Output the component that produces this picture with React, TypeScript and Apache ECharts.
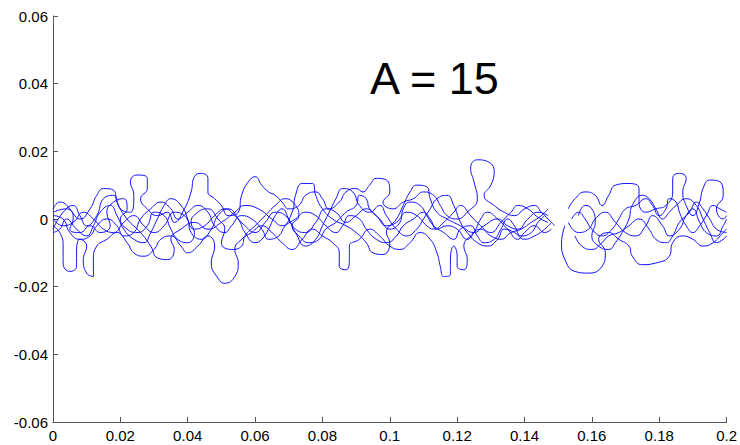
import React, { useEffect, useRef } from "react";
import * as echarts from "echarts";

const xTicks = [0, 0.02, 0.04, 0.06, 0.08, 0.1, 0.12, 0.14, 0.16, 0.18, 0.2];
const yTicks = [-0.06, -0.04, -0.02, 0, 0.02, 0.04, 0.06];
const titleText = "A = 15";

const strandA: number[][] = [
  [0, -0.003], [0.003, 0.002], [0.006, 0.004], [0.008, 0.001], [0.010, -0.002], [0.013, 0.001], [0.015, 0.006],
  [0.018, 0.007], [0.020, 0.003], [0.023, 0.002], [0.024, 0.007], [0.023, 0.011], [0.025, 0.013], [0.028, 0.012],
  [0.028, 0.009], [0.026, 0.006], [0.028, 0.003], [0.031, 0.001], [0.034, 0.002], [0.036, -0.001], [0.039, 0.003],
  [0.041, 0.008], [0.042, 0.0125], [0.044, 0.0135], [0.046, 0.012], [0.046, 0.008], [0.048, 0.006], [0.050, 0.004],
  [0.052, 0.001], [0.055, 0.002], [0.056, 0.007], [0.058, 0.011], [0.060, 0.0125], [0.062, 0.010], [0.064, 0.008],
  [0.066, 0.007], [0.068, 0.005], [0.070, 0.003], [0.073, 0.004], [0.075, 0.007], [0.078, 0.008], [0.080, 0.006],
  [0.082, 0.003], [0.085, 0.005], [0.087, 0.008], [0.090, 0.009], [0.092, 0.008], [0.094, 0.010], [0.096, 0.012],
  [0.099, 0.0115], [0.100, 0.008], [0.098, 0.005], [0.101, 0.003], [0.104, 0.005], [0.107, 0.006], [0.110, 0.008],
  [0.113, 0.007], [0.115, 0.004], [0.117, 0.001], [0.120, 0.000], [0.123, 0.002], [0.126, 0.006], [0.125, 0.011],
  [0.124, 0.015], [0.126, 0.0175], [0.129, 0.017], [0.131, 0.014], [0.130, 0.010], [0.128, 0.007], [0.131, 0.004],
  [0.134, 0.002], [0.137, 0.001], [0.140, 0.003], [0.143, 0.004], [0.145, 0.002], [0.147, 0.000], [0.149, -0.002],
];

const strandB: number[][] = [
  [0, -0.002], [0.002, -0.004], [0.003, -0.008], [0.003, -0.013], [0.005, -0.0155], [0.007, -0.014], [0.007, -0.010],
  [0.008, -0.006], [0.010, -0.008], [0.009, -0.012], [0.010, -0.016], [0.012, -0.017], [0.012, -0.012], [0.013, -0.008],
  [0.016, -0.006], [0.019, -0.004], [0.022, -0.007], [0.024, -0.010], [0.027, -0.011], [0.030, -0.009], [0.032, -0.006],
  [0.035, -0.005], [0.038, -0.008], [0.040, -0.010], [0.043, -0.008], [0.046, -0.005], [0.048, -0.008], [0.047, -0.013],
  [0.049, -0.0175], [0.051, -0.019], [0.054, -0.017], [0.055, -0.013], [0.054, -0.009], [0.056, -0.006], [0.059, -0.004],
  [0.062, -0.002], [0.065, -0.004], [0.068, -0.007], [0.071, -0.009], [0.074, -0.006], [0.077, -0.003], [0.080, -0.005],
  [0.083, -0.007], [0.085, -0.010], [0.085, -0.014], [0.087, -0.015], [0.088, -0.012], [0.088, -0.008], [0.091, -0.006],
  [0.094, -0.003], [0.097, -0.005], [0.100, -0.008], [0.103, -0.009], [0.106, -0.007], [0.109, -0.004], [0.112, -0.006],
  [0.114, -0.010], [0.115, -0.014], [0.116, -0.017], [0.118, -0.0165], [0.118, -0.012], [0.119, -0.008], [0.120, -0.011],
  [0.120, -0.014], [0.122, -0.015], [0.123, -0.012], [0.122, -0.008], [0.124, -0.005], [0.127, -0.003], [0.130, -0.005],
  [0.133, -0.006], [0.136, -0.004], [0.139, -0.003], [0.142, -0.001], [0.145, 0.001], [0.147, 0.003],
];

const strandB2: number[][] = [
  [0.152, -0.002], [0.151, -0.007], [0.152, -0.012], [0.155, -0.0155], [0.159, -0.016], [0.163, -0.014], [0.164, -0.010],
  [0.162, -0.006], [0.165, -0.004], [0.168, -0.006], [0.171, -0.008], [0.172, -0.011], [0.175, -0.0135], [0.179, -0.013],
  [0.183, -0.011], [0.184, -0.007], [0.187, -0.005], [0.190, -0.006], [0.193, -0.008], [0.196, -0.007], [0.199, -0.004],
  [0.2, -0.003],
];

const strandC: number[][] = [
  [0, 0.000], [0.003, -0.002], [0.006, -0.001], [0.009, 0.002], [0.012, 0.000], [0.015, -0.003], [0.018, -0.004],
  [0.021, -0.001], [0.024, 0.001], [0.027, -0.002], [0.030, -0.004], [0.033, -0.002], [0.036, 0.002], [0.039, 0.001],
  [0.042, -0.003], [0.045, -0.002], [0.048, 0.001], [0.051, 0.003], [0.054, 0.001], [0.057, -0.002], [0.060, -0.004],
  [0.063, -0.001], [0.066, 0.002], [0.069, 0.001], [0.072, -0.003], [0.075, -0.004], [0.078, -0.001], [0.081, 0.003],
  [0.084, 0.002], [0.087, -0.001], [0.090, 0.001], [0.093, 0.003], [0.096, 0.001], [0.099, -0.002], [0.102, -0.001],
  [0.105, 0.002], [0.108, 0.001], [0.111, -0.002], [0.113, -0.003], [0.116, -0.001], [0.119, 0.002], [0.121, 0.004],
  [0.124, 0.001], [0.127, -0.002], [0.130, -0.004], [0.133, -0.001], [0.136, 0.002], [0.138, 0.004], [0.141, 0.003],
  [0.144, 0.0005], [0.147, -0.001],
];

const strandC2: number[][] = [
  [0.153, 0.003], [0.155, 0.006], [0.158, 0.008], [0.161, 0.007], [0.163, 0.004], [0.165, 0.007], [0.167, 0.010],
  [0.171, 0.0105], [0.174, 0.009], [0.174, 0.005], [0.176, 0.002], [0.179, 0.003], [0.182, 0.004], [0.184, 0.008],
  [0.184, 0.012], [0.186, 0.0135], [0.188, 0.012], [0.187, 0.008], [0.188, 0.004], [0.190, 0.001], [0.192, 0.005],
  [0.193, 0.009], [0.195, 0.0115], [0.198, 0.011], [0.199, 0.007], [0.197, 0.003], [0.199, 0.000], [0.2, 0.001],
];

const strandD: number[][] = [
  [0, -0.004], [0.002, -0.003], [0.004, 0.000], [0.007, -0.003], [0.010, -0.005], [0.012, -0.002], [0.014, 0.002],
  [0.017, 0.004], [0.019, 0.001], [0.021, -0.003], [0.024, -0.006], [0.027, -0.007], [0.029, -0.004], [0.031, 0.000],
  [0.033, 0.004], [0.035, 0.006], [0.038, 0.004], [0.040, 0.000], [0.041, -0.004], [0.044, -0.006], [0.047, -0.003],
  [0.049, 0.001], [0.052, 0.003], [0.055, 0.000], [0.057, -0.004], [0.060, -0.007], [0.062, -0.006], [0.064, -0.003],
  [0.066, 0.001], [0.068, 0.003], [0.070, 0.000], [0.072, -0.004], [0.075, -0.008], [0.078, -0.006], [0.080, -0.002],
  [0.082, 0.002], [0.084, 0.006], [0.086, 0.009], [0.089, 0.008], [0.091, 0.004], [0.094, 0.002], [0.097, 0.004],
  [0.099, 0.001], [0.102, -0.003], [0.105, -0.005], [0.108, -0.003], [0.110, 0.000], [0.112, 0.003], [0.114, 0.006],
  [0.117, 0.007], [0.119, 0.004], [0.121, -0.001], [0.123, -0.004], [0.126, -0.007], [0.129, -0.008], [0.132, -0.006],
  [0.134, -0.003], [0.137, -0.004], [0.140, -0.006], [0.143, -0.005], [0.146, -0.003], [0.148, -0.001],
];

const strandD2: number[][] = [
  [0.153, -0.001], [0.156, -0.004], [0.159, -0.003], [0.161, 0.000], [0.164, 0.002], [0.167, -0.001], [0.170, -0.004],
  [0.173, -0.005], [0.176, -0.002], [0.178, 0.001], [0.181, -0.002], [0.183, -0.005], [0.186, -0.003], [0.188, 0.001],
  [0.190, 0.003], [0.192, -0.001], [0.194, -0.004], [0.197, -0.005], [0.199, -0.002], [0.2, 0.000],
];

const strandE: number[][] = [
  [0, 0.003], [0.002, 0.005], [0.005, 0.003], [0.006, 0.000], [0.005, -0.003], [0.008, -0.004], [0.011, -0.002],
  [0.014, -0.004], [0.017, -0.002], [0.016, 0.002], [0.018, 0.005], [0.021, 0.006], [0.022, 0.003], [0.020, 0.000],
  [0.022, -0.003], [0.025, -0.004], [0.028, -0.002], [0.030, 0.002], [0.033, 0.001], [0.035, -0.003], [0.037, -0.006],
  [0.040, -0.007], [0.042, -0.004], [0.041, -0.001], [0.043, 0.002], [0.046, 0.003], [0.049, 0.000], [0.051, -0.003],
  [0.050, -0.007], [0.053, -0.009], [0.056, -0.008], [0.057, -0.005], [0.060, -0.002], [0.063, 0.001], [0.066, 0.004],
  [0.069, 0.006], [0.072, 0.004], [0.073, 0.001], [0.071, -0.002], [0.073, -0.005], [0.076, -0.007], [0.079, -0.006],
  [0.081, -0.003], [0.084, -0.001], [0.087, 0.002], [0.090, 0.004], [0.091, 0.007], [0.093, 0.006], [0.094, 0.003],
  [0.097, 0.000], [0.100, -0.003], [0.103, -0.001], [0.104, 0.003], [0.106, 0.005], [0.109, 0.004], [0.111, 0.001],
  [0.113, -0.002], [0.116, -0.004], [0.119, -0.006], [0.121, -0.003], [0.124, -0.002], [0.126, -0.005], [0.128, -0.007],
  [0.131, -0.006], [0.133, -0.003], [0.135, 0.000], [0.137, -0.002], [0.139, -0.005], [0.142, -0.004], [0.144, -0.001],
  [0.146, 0.001],
];

const strandE2: number[][] = [
  [0.154, 0.000], [0.156, 0.002], [0.158, 0.000], [0.160, -0.003], [0.163, -0.005], [0.166, -0.003], [0.168, 0.000],
  [0.170, 0.003], [0.173, 0.004], [0.176, 0.006], [0.178, 0.004], [0.180, 0.001], [0.182, 0.003], [0.183, 0.006],
  [0.185, 0.005], [0.186, 0.002], [0.188, -0.002], [0.190, -0.004], [0.192, -0.002], [0.194, 0.001], [0.196, 0.004],
  [0.198, 0.003], [0.2, 0.002],
];

const strandF: number[][] = [
  [0, 0.001], [0.003, 0.000], [0.005, -0.004], [0.008, -0.006], [0.011, -0.005], [0.013, -0.002], [0.016, 0.000],
  [0.019, -0.002], [0.021, -0.005], [0.024, -0.004], [0.026, 0.000], [0.029, 0.003], [0.032, 0.005], [0.035, 0.003],
  [0.037, 0.000], [0.040, 0.002], [0.043, 0.004], [0.046, 0.002], [0.048, -0.002], [0.051, -0.004], [0.053, -0.002],
  [0.056, 0.001], [0.059, 0.000], [0.062, -0.003], [0.064, -0.006], [0.067, -0.005], [0.069, -0.002], [0.072, 0.000],
  [0.075, 0.002], [0.078, 0.001], [0.081, -0.002], [0.084, -0.004], [0.086, -0.002], [0.088, 0.001], [0.091, 0.000],
  [0.093, -0.003], [0.096, -0.006], [0.099, -0.007], [0.102, -0.005], [0.104, -0.002], [0.107, 0.000], [0.110, 0.002],
  [0.112, 0.000], [0.114, -0.003], [0.117, -0.002], [0.120, -0.003], [0.123, -0.006], [0.125, -0.004], [0.127, 0.000],
  [0.129, 0.002], [0.132, 0.000], [0.135, -0.003], [0.138, -0.006], [0.140, -0.004], [0.143, -0.002], [0.146, -0.004],
  [0.148, -0.003],
];

const strandF2: number[][] = [
  [0.155, -0.005], [0.157, -0.008], [0.160, -0.009], [0.163, -0.007], [0.165, -0.005], [0.168, -0.004], [0.171, -0.002],
  [0.174, 0.000], [0.177, -0.003], [0.179, -0.006], [0.182, -0.007], [0.184, -0.005], [0.186, -0.001], [0.189, 0.002],
  [0.191, 0.005], [0.193, 0.003], [0.195, 0.000], [0.197, -0.003], [0.2, -0.004],
];

const strandG: number[][] = [
  [0, 0.002], [0.004, 0.003], [0.008, 0.000], [0.011, 0.003], [0.013, 0.007], [0.015, 0.009], [0.018, 0.0085],
  [0.019, 0.005], [0.022, 0.000], [0.026, -0.004], [0.029, -0.008], [0.031, -0.0115], [0.034, -0.012], [0.036, -0.009],
  [0.035, -0.006], [0.038, -0.003], [0.042, -0.001], [0.046, -0.003], [0.050, -0.001], [0.054, 0.002], [0.057, 0.004],
  [0.061, 0.003], [0.065, 0.000], [0.068, -0.002], [0.071, 0.002], [0.072, 0.007], [0.074, 0.0105], [0.077, 0.0105],
  [0.078, 0.007], [0.080, 0.003], [0.083, 0.000], [0.087, -0.002], [0.090, -0.004], [0.093, -0.007], [0.095, -0.010],
  [0.098, -0.0105], [0.100, -0.007], [0.099, -0.004], [0.102, 0.000], [0.104, 0.004], [0.106, 0.008], [0.108, 0.010],
  [0.111, 0.0095], [0.112, 0.006], [0.114, 0.002], [0.117, 0.000], [0.121, -0.002], [0.125, -0.004], [0.128, -0.002],
  [0.132, 0.000], [0.135, -0.002], [0.138, -0.003], [0.141, 0.000], [0.144, 0.002], [0.147, 0.001],
];

const strandG2: number[][] = [
  [0.156, 0.001], [0.158, 0.004], [0.160, 0.003], [0.161, -0.001], [0.160, -0.005], [0.162, -0.008], [0.165, -0.009],
  [0.167, -0.007], [0.169, -0.004], [0.171, 0.000], [0.172, 0.004], [0.175, 0.007], [0.177, 0.006], [0.179, 0.003],
  [0.181, 0.000], [0.183, 0.002], [0.185, 0.004], [0.188, 0.006], [0.191, 0.004], [0.193, 0.000], [0.195, -0.004],
  [0.197, -0.007], [0.199, -0.006], [0.2, -0.005],
];

const strands = [
  strandA, strandB, strandB2, strandC, strandC2, strandD, strandD2, strandE, strandE2, strandF, strandF2,
  strandG, strandG2,
];

const fmt = (v: number) => String(parseFloat(v.toFixed(2)));

export default function App() {
  const ref = useRef<HTMLDivElement>(null);
  useEffect(() => {
    if (!ref.current) return;
    const chart = echarts.init(ref.current, undefined, { renderer: "svg" });
    const axisCommon = {
      axisLine: { show: true, onZero: false, lineStyle: { color: "#555", width: 1 } },
      axisTick: { show: true, inside: true, length: 5, lineStyle: { color: "#555" } },
      splitLine: { show: false },
      axisLabel: { color: "#000", fontSize: 15, fontFamily: "Liberation Sans, Arial, sans-serif" },
    };
    chart.setOption({
      animation: false,
      backgroundColor: "#fff",
      grid: { left: 53, right: 10, top: 16, bottom: 23, containLabel: false },
      xAxis: {
        type: "value",
        min: xTicks[0],
        max: xTicks[xTicks.length - 1],
        interval: 0.02,
        ...axisCommon,
        axisLabel: { ...axisCommon.axisLabel, margin: 6, formatter: fmt },
      },
      yAxis: {
        type: "value",
        min: yTicks[0],
        max: yTicks[yTicks.length - 1],
        interval: 0.02,
        ...axisCommon,
        axisLabel: { ...axisCommon.axisLabel, margin: 5, formatter: fmt },
      },
      graphic: [
        {
          type: "text",
          left: 370,
          top: 56,
          style: {
            text: titleText,
            fontSize: 45,
            fontFamily: "Liberation Sans, Arial, sans-serif",
            fill: "#000",
          },
        },
      ],
      series: strands.map((s) => ({
        type: "line",
        data: s,
        showSymbol: false,
        smooth: 0.5,
        lineStyle: { color: "#1010ff", width: 1 },
      })),
    });
    return () => chart.dispose();
  }, []);
  return (
    <div
      ref={ref}
      style={{ position: "fixed", left: 0, top: 0, width: 740, height: 445, background: "#fff" }}
    />
  );
}
